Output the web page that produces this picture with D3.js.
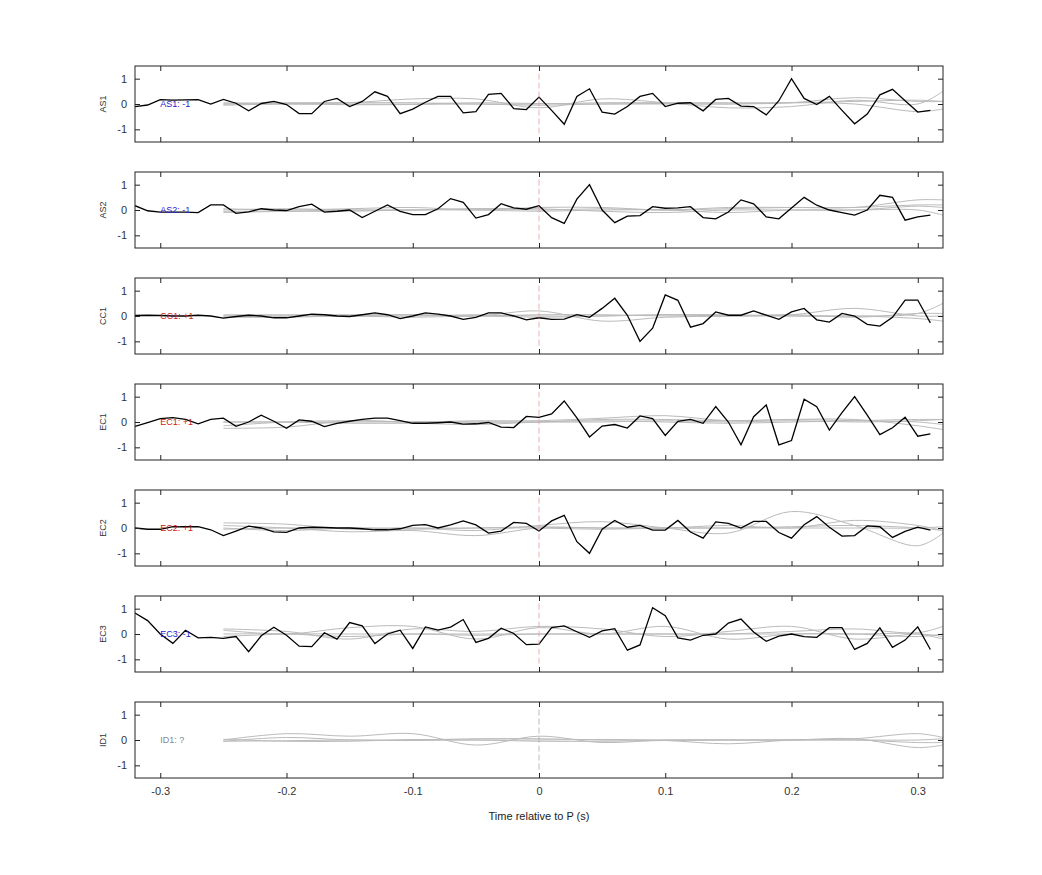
<!DOCTYPE html>
<html>
<head>
<meta charset="utf-8">
<script src="https://cdn.jsdelivr.net/npm/d3@7"></script>
<style>
body { margin: 0; background: #fff; }
svg { font-family: "Liberation Sans", Arial, sans-serif; }
</style>
</head>
<body>
<svg width="1042" height="875"></svg>
<script>
// channel names, polarity labels and label colours
const channels = ["AS1", "AS2", "CC1", "EC1", "EC2", "EC3", "ID1"];
const labels = ["AS1: -1", "AS2: -1", "CC1: +1", "EC1: +1", "EC2: +1", "EC3: -1", "ID1: ?"];
const labelColors = ["#2222cc", "#2222cc", "#cc2222", "#cc2222", "#cc2222", "#2222cc", "#888888"];

// black traces sampled every 0.01 s from -0.32 to 0.31
const sampleTimes = d3.range(64).map(i => Math.round((-0.32 + i * 0.01) * 100) / 100);
const AS1 = [-0.1,-0.04,0.17,0.15,0.16,0.17,0.0,0.18,0.03,-0.27,0.02,0.1,-0.02,-0.38,-0.38,0.1,0.22,-0.1,0.1,0.48,0.3,-0.38,-0.2,0.07,0.3,0.3,-0.35,-0.3,0.38,0.42,-0.18,-0.22,
  0.27,-0.25,-0.8,0.3,0.6,-0.32,-0.4,-0.1,0.3,0.42,-0.1,0.03,0.05,-0.27,0.18,0.22,-0.08,-0.1,-0.43,0.13,1.0,0.22,-0.02,0.3,-0.25,-0.78,-0.4,0.36,0.58,0.13,-0.32,-0.25];
const AS2 = [0.17,-0.03,-0.08,-0.08,-0.08,-0.1,0.2,0.2,-0.13,-0.07,0.05,0.0,-0.02,0.13,0.23,-0.08,-0.05,0.0,-0.3,-0.05,0.2,-0.05,-0.18,-0.18,0.05,0.45,0.3,-0.32,-0.18,0.25,0.08,0.03,
  0.17,-0.3,-0.53,0.43,1.0,0.0,-0.5,-0.24,-0.22,0.13,0.07,0.08,0.13,-0.3,-0.35,-0.08,0.4,0.24,-0.27,-0.35,0.08,0.5,0.19,0.0,-0.1,-0.2,0.0,0.58,0.5,-0.4,-0.27,-0.2];
const CC1 = [0.02,0.03,0.02,0.0,0.0,0.03,0.0,-0.08,-0.02,0.03,0.0,-0.07,-0.07,0.0,0.07,0.05,0.0,-0.02,0.05,0.12,0.05,-0.1,0.0,0.12,0.07,0.0,-0.13,-0.05,0.12,0.12,0.0,-0.15,
  -0.07,-0.13,-0.12,0.05,-0.05,0.3,0.7,0.03,-1.0,-0.48,0.83,0.62,-0.44,-0.3,0.16,0.03,0.03,0.2,0.03,-0.13,0.16,0.3,-0.15,-0.24,0.1,0.0,-0.33,-0.4,-0.05,0.63,0.63,-0.27];
const EC1 = [-0.17,-0.02,0.13,0.17,0.1,-0.07,0.1,0.15,-0.17,0.0,0.27,0.03,-0.25,0.08,0.03,-0.18,-0.05,0.03,0.1,0.15,0.15,0.05,-0.05,-0.05,-0.03,0.0,-0.08,-0.07,-0.02,-0.2,-0.22,0.22,
  0.18,0.32,0.83,0.16,-0.59,-0.16,-0.1,-0.24,0.24,0.13,-0.53,0.03,0.1,-0.05,0.61,0.0,-0.9,0.21,0.67,-0.9,-0.73,0.9,0.6,-0.32,0.37,1.0,0.27,-0.5,-0.23,0.19,-0.56,-0.47];
const EC2 = [0.0,-0.05,-0.05,0.05,0.05,0.05,-0.07,-0.3,-0.12,0.07,0.0,-0.15,-0.17,0.0,0.03,0.02,0.0,0.0,-0.03,-0.07,-0.07,-0.03,0.1,0.13,0.0,0.12,0.28,0.12,-0.2,-0.12,0.22,0.18,
  -0.12,0.28,0.5,-0.54,-1.0,-0.05,0.3,0.03,0.1,-0.08,-0.08,0.3,-0.16,-0.4,0.24,0.18,0.0,0.26,0.26,-0.18,-0.4,0.13,0.45,0.03,-0.32,-0.3,0.08,0.05,-0.37,-0.13,0.03,-0.08];
const EC3 = [0.83,0.53,0.0,-0.37,0.15,-0.15,-0.13,-0.17,-0.1,-0.7,-0.07,0.27,-0.05,-0.48,-0.5,0.05,-0.2,0.45,0.32,-0.38,0.0,0.15,-0.57,0.28,0.15,0.27,0.57,-0.33,-0.17,0.23,0.02,-0.42,
  -0.4,0.25,0.32,0.09,-0.13,0.12,0.21,-0.64,-0.43,1.04,0.72,-0.15,-0.24,-0.05,0.0,0.43,0.59,0.08,-0.29,-0.08,0.0,-0.1,-0.13,0.25,0.25,-0.61,-0.37,0.24,-0.53,-0.24,0.28,-0.61];
const ID1 = null;
const traces = [AS1, AS2, CC1, EC1, EC2, EC3, ID1];

// grey reference traces, knots every 0.05 s from -0.25 to 0.30 plus 0.32
const greyTimes = [-0.25,-0.2,-0.15,-0.1,-0.05,0,0.05,0.1,0.15,0.2,0.25,0.3,0.32];
const greyAS1 = [[0,0,0.05,0.2,0.2,-0.15,0.2,0.05,-0.15,-0.1,0.15,0.0,0.5],[0.05,0.02,0,0,0.05,0.02,0,0.02,0,0.05,0.25,0.1,0.1],[-0.05,0,-0.03,-0.02,0,-0.05,0,0,0,0.05,0,-0.3,-0.2],[0,0.05,0.05,0.05,0,0,0.05,0.05,0.05,0.05,0.1,0.15,0.1]];
const greyAS2 = [[-0.1,-0.05,0,0,0.05,0,0.05,0,0.05,0.1,0.1,0.4,0.4],[0.05,0,0.05,0.1,0,0.1,0.1,0,0.1,0.1,0.1,0.2,0.2],[0,0.05,0,0,0.05,0.05,-0.05,-0.1,0,0,0,0.15,0.1],[-0.05,-0.05,-0.05,0,0,-0.05,0,0,-0.1,0,0,0,-0.2]];
const greyCC1 = [[0,0,0,0.05,0,0.2,-0.2,-0.05,0,0,0,0.1,0.5],[0.05,0.05,0.05,0.05,0,0.05,0.05,0,0,0.05,0.3,0,0],[-0.05,-0.05,0,-0.05,0,-0.05,0,0.05,0,0.05,-0.05,0.1,0.1],[0,0,0,0,0.05,0,0,0.05,0.05,0,0,-0.1,-0.2]];
const greyEC1 = [[-0.25,-0.2,0.05,0,0.05,0.05,0.15,0.25,0.05,0.1,0.05,0,-0.1],[-0.15,0,0.05,0,0,0,0.1,0.1,0.05,0.1,0.1,-0.15,-0.3],[0,0,0,0,0,0,0,0.05,0,0.05,0,0.05,0.1],[0,0,-0.05,-0.05,-0.1,0,0.05,0,-0.05,0,0.05,0.1,0.1]];
const greyEC2 = [[0.2,0.15,-0.05,0,-0.1,0.1,0.25,0,-0.2,0.65,0.1,-0.7,-0.2],[0.1,0,-0.15,-0.1,-0.3,0,0,0,0.1,0,0.3,0.1,-0.1],[0,-0.1,0,-0.05,0,0,-0.05,0,0,0,0,0,0.05],[-0.05,0,0,0,0,0.05,0,0,0,0.05,0.1,0,-0.1]];
const greyEC3 = [[0.2,0.1,-0.2,0.2,0.1,0.3,0.2,-0.1,0.1,0.3,-0.2,0,-0.1],[0.15,0,0.25,0.3,-0.2,0.25,0,0.3,-0.2,0,0,0,-0.2],[0,0,-0.1,0,-0.05,0,0,0,0,0.1,0.2,0.05,0.3],[-0.1,0,0,0,0,0,0,0,0,0,0,-0.1,0]];
const greyID1 = [[0,0.25,0.15,0.25,-0.2,0.15,-0.1,0,0,0,0.05,-0.3,-0.2],[-0.05,0.1,0,0,0.05,0.05,0,-0.02,-0.15,0,0.05,0.25,0.1],[0.03,-0.05,-0.05,0.02,0,0,0.02,0,0,0,0,0,0.05],[-0.05,-0.03,0,-0.02,0,-0.05,-0.05,-0.02,0,0,0,-0.1,-0.1]];
const greys = [greyAS1, greyAS2, greyCC1, greyEC1, greyEC2, greyEC3, greyID1];

const xTicks = [-0.3, -0.2, -0.1, 0, 0.1, 0.2, 0.3];
const yTicks = [-1, 0, 1];

const svg = d3.select("svg");
const left = 135, right = 943, panelTop = 66, panelH = 76, panelStep = 106;
const fmt = d => String(d);  // plain hyphen minus, like the original

const x = d3.scaleLinear().domain([-0.32, 0.32]).range([left, right]);

channels.forEach((ch, i) => {
    const top = panelTop + i * panelStep;
    const y = d3.scaleLinear().domain([-1.5, 1.5]).range([top + panelH, top]);
    const g = svg.append("g");

    g.append("defs").append("clipPath").attr("id", "clip" + i)
      .append("rect").attr("x", left).attr("y", top).attr("width", right - left).attr("height", panelH);

    const plot = g.append("g").attr("clip-path", "url(#clip" + i + ")");

    // grey curves
    const gl = d3.line().x((d, k) => x(greyTimes[k])).y(d => y(d)).curve(d3.curveCatmullRom);
    greys[i].forEach(c => {
        plot.append("path").attr("d", gl(c)).attr("fill", "none")
            .attr("stroke", "#bbbbbb").attr("stroke-width", 1);
    });

    // black trace
    if (traces[i]) {
        const bl = d3.line().x((d, k) => x(sampleTimes[k])).y(d => y(d));
        plot.append("path").attr("d", bl(traces[i])).attr("fill", "none")
            .attr("stroke", "#000").attr("stroke-width", 1.3);
    }

    // dashed marker at P
    g.append("line").attr("x1", x(0)).attr("x2", x(0))
      .attr("y1", y(1.2)).attr("y2", y(-1.2))
      .attr("stroke", i === 6 ? "#aaa" : "#e8a0a0").attr("stroke-dasharray", "6,3").attr("stroke-width", 0.8);

    // axes with inward ticks
    const axB = g.append("g").attr("transform", `translate(0,${top + panelH})`)
      .call(d3.axisBottom(x).tickValues(xTicks).tickSize(-5).tickSizeOuter(0)
        .tickFormat(i === 6 ? fmt : ""));
    axB.selectAll("text").attr("dy", "1.3em");
    g.append("g").attr("transform", `translate(0,${top})`)
      .call(d3.axisTop(x).tickValues(xTicks).tickSize(-5).tickSizeOuter(0).tickFormat(""));
    const axL = g.append("g").attr("transform", `translate(${left},0)`)
      .call(d3.axisLeft(y).tickValues(yTicks).tickSize(-5).tickSizeOuter(0).tickFormat(fmt));
    axL.selectAll("text").attr("x", -8);
    g.append("g").attr("transform", `translate(${right},0)`)
      .call(d3.axisRight(y).tickValues(yTicks).tickSize(-5).tickSizeOuter(0).tickFormat(""));
    g.selectAll(".domain").remove();
    g.selectAll(".tick line").attr("stroke", "#222");
    g.selectAll(".tick text").attr("fill", "#333").style("font-size", "11px");

    g.append("rect").attr("x", left).attr("y", top).attr("width", right - left).attr("height", panelH)
      .attr("fill", "none").attr("stroke", "#222").attr("stroke-width", 1);

    // channel name
    g.append("text").attr("transform", `translate(106,${y(0)}) rotate(-90)`)
      .attr("text-anchor", "middle").style("font-size", "9px").attr("fill", "#333").text(ch);

    // polarity label
    g.append("text").attr("x", x(-0.3)).attr("y", y(0) + 3)
      .style("font-size", "9px").attr("fill", labelColors[i]).text(labels[i]);
});

svg.append("text").attr("x", x(0)).attr("y", 820).attr("text-anchor", "middle")
  .style("font-size", "11px").attr("fill", "#222").text("Time relative to P (s)");
</script>
</body>
</html>
